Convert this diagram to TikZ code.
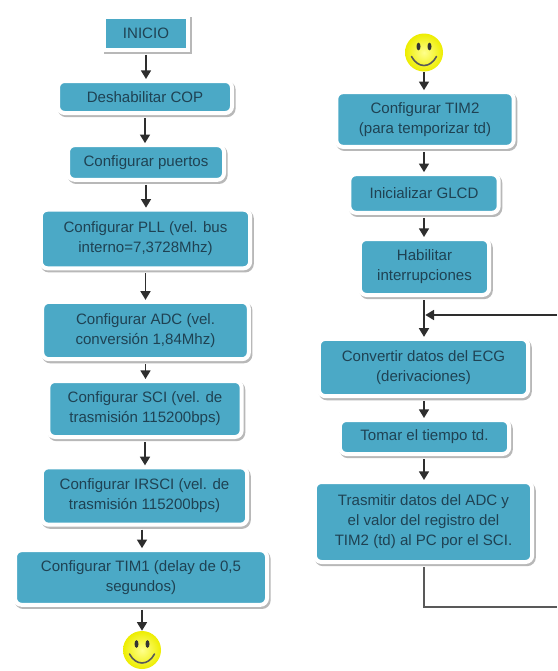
\documentclass[tikz,border=0pt]{standalone}
\usepackage{fontspec}
\setmainfont{Liberation Sans}
\usetikzlibrary{arrows.meta,shadows,calc}
\definecolor{boxblue}{HTML}{4BA9C6}
\definecolor{boxtext}{HTML}{1F4253}
\definecolor{linecol}{HTML}{2E2E2E}
\tikzset{
  x=0.75pt,y=-0.75pt,
  flowbox/.style={rectangle,rounded corners=5pt,fill=boxblue,draw=white,line width=3pt,
    text=boxtext,align=center,font=\fontsize{11.3pt}{15pt}\selectfont,inner sep=0pt,
    drop shadow={shadow xshift=1.2pt,shadow yshift=-1.6pt,fill=black!28,draw=black!28,opacity=1}},
  squarebox/.style={flowbox,rounded corners=0pt},
  flow/.style={draw=linecol,line width=1.3pt,-{Triangle[length=6.5pt,width=7.5pt]}},
  plainline/.style={draw=black!65,line width=1.1pt},
  smileface/.style={circle,minimum size=28.5pt,inner sep=0pt,draw=none,
    shade,inner color=yellow!45!white,outer color=yellow!93!black},
}
\newcommand{\smilebits}[1]{%
  \fill[black!80] ($(#1)+(-5.5,-6)$) ellipse [x radius=2,y radius=3.8];
  \fill[black!80] ($(#1)+(5.5,-6)$) ellipse [x radius=2,y radius=3.8];
  \draw[black!65,line width=1.2pt,line cap=round] ($(#1)+(-12.5,4)$) .. controls ($(#1)+(-6,16)$) and ($(#1)+(6,16)$) .. ($(#1)+(12.5,4)$);
}
\begin{document}
\begin{tikzpicture}
\useasboundingbox (0,0) rectangle (557,671);
\fill[white] (0,0) rectangle (557,671);
% left column
\node[squarebox,minimum width=63pt,minimum height=24.5pt] (inicio) at (146,33.5) {INICIO};
\node[flowbox,minimum width=130.5pt,minimum height=24pt] (cop) at (145,97) {Deshabilitar COP};
\node[flowbox,minimum width=117pt,minimum height=26pt] (puertos) at (146,162.5) {Configurar puertos};
\node[flowbox,minimum width=157pt,minimum height=44pt] (pll) at (145.5,239) {Configurar PLL (vel. bus\\interno=7,3728Mhz)};
\node[flowbox,minimum width=155pt,minimum height=43pt] (adc) at (145.5,330.5) {Configurar ADC (vel.\\conversión 1,84Mhz)};
\node[flowbox,minimum width=145pt,minimum height=42pt] (sci) at (145,409) {Configurar SCI (vel. de\\trasmisión 115200bps)};
\node[flowbox,minimum width=154pt,minimum height=43pt] (irsci) at (144.5,496) {Configurar IRSCI (vel. de\\trasmisión 115200bps)};
\node[flowbox,minimum width=189pt,minimum height=41pt] (tim1) at (141,577.5) {Configurar TIM1 (delay de 0,5\\segundos)};
\node[smileface] (smileb) at (142,650) {};
% right column
\node[smileface] (smilet) at (424,52.5) {};
\node[flowbox,minimum width=133pt,minimum height=41pt] (tim2) at (425,119.5) {Configurar TIM2\\(para temporizar td)};
\node[flowbox,minimum width=112pt,minimum height=29pt] (glcd) at (424,193.5) {Inicializar GLCD};
\node[flowbox,minimum width=97pt,minimum height=42pt] (habil) at (424.5,267) {Habilitar\\interrupciones};
\node[flowbox,minimum width=157pt,minimum height=43pt] (ecg) at (423.5,367.5) {Convertir datos del ECG\\(derivaciones)};
\node[flowbox,minimum width=127pt,minimum height=25.5pt] (tomar) at (424.5,437) {Tomar el tiempo td.};
\node[flowbox,minimum width=163pt,minimum height=60pt] (tras) at (423.5,522) {Trasmitir datos del ADC y\\el valor del registro del\\TIM2 (td) al PC por el SCI.};
\smilebits{smileb}
\smilebits{smilet}
\coordinate (joinpt) at (424,315);
\coordinate (lowcorner) at (424,607);
\coordinate (rightlow) at (557,607);
\coordinate (righttop) at (557,315);
% connectors
\draw[flow] (inicio.south) ++(0,3) -- (inicio.south |- cop.north);
\draw[flow] (cop.south) ++(0,3) -- (cop.south |- puertos.north);
\draw[flow] (puertos.south) ++(0,3) -- (puertos.south |- pll.north);
\draw[flow] (pll.south) ++(0,3) -- (pll.south |- adc.north);
\draw[flow] (adc.south) ++(0,3) -- (adc.south |- sci.north);
\draw[flow] (sci.south) ++(0,3) -- (sci.south |- irsci.north);
\draw[flow] (irsci.south -| smileb) ++(0,3) -- (tim1.north -| smileb);
\draw[flow] (tim1.south -| smileb) ++(0,3) -- (smileb.north);
\draw[flow] (smilet.south) -- (smilet.south |- tim2.north);
\draw[flow] (tim2.south -| glcd) ++(0,3) -- (glcd.north);
\draw[flow] (glcd.south) ++(0,3) -- (glcd.south |- habil.north);
\draw[flow] (habil.south -| joinpt) ++(0,3) -- (joinpt |- ecg.north);
\draw[flow] (ecg.south -| joinpt) ++(0,3) -- (joinpt |- tomar.north);
\draw[flow] (tomar.south -| joinpt) ++(0,3) -- (joinpt |- tras.north);
\draw[plainline] (tras.south -| joinpt) ++(0,3) -- (lowcorner) -- (rightlow);
\draw[flow,shorten >=1pt] (righttop) -- (joinpt);
\end{tikzpicture}
\end{document}
